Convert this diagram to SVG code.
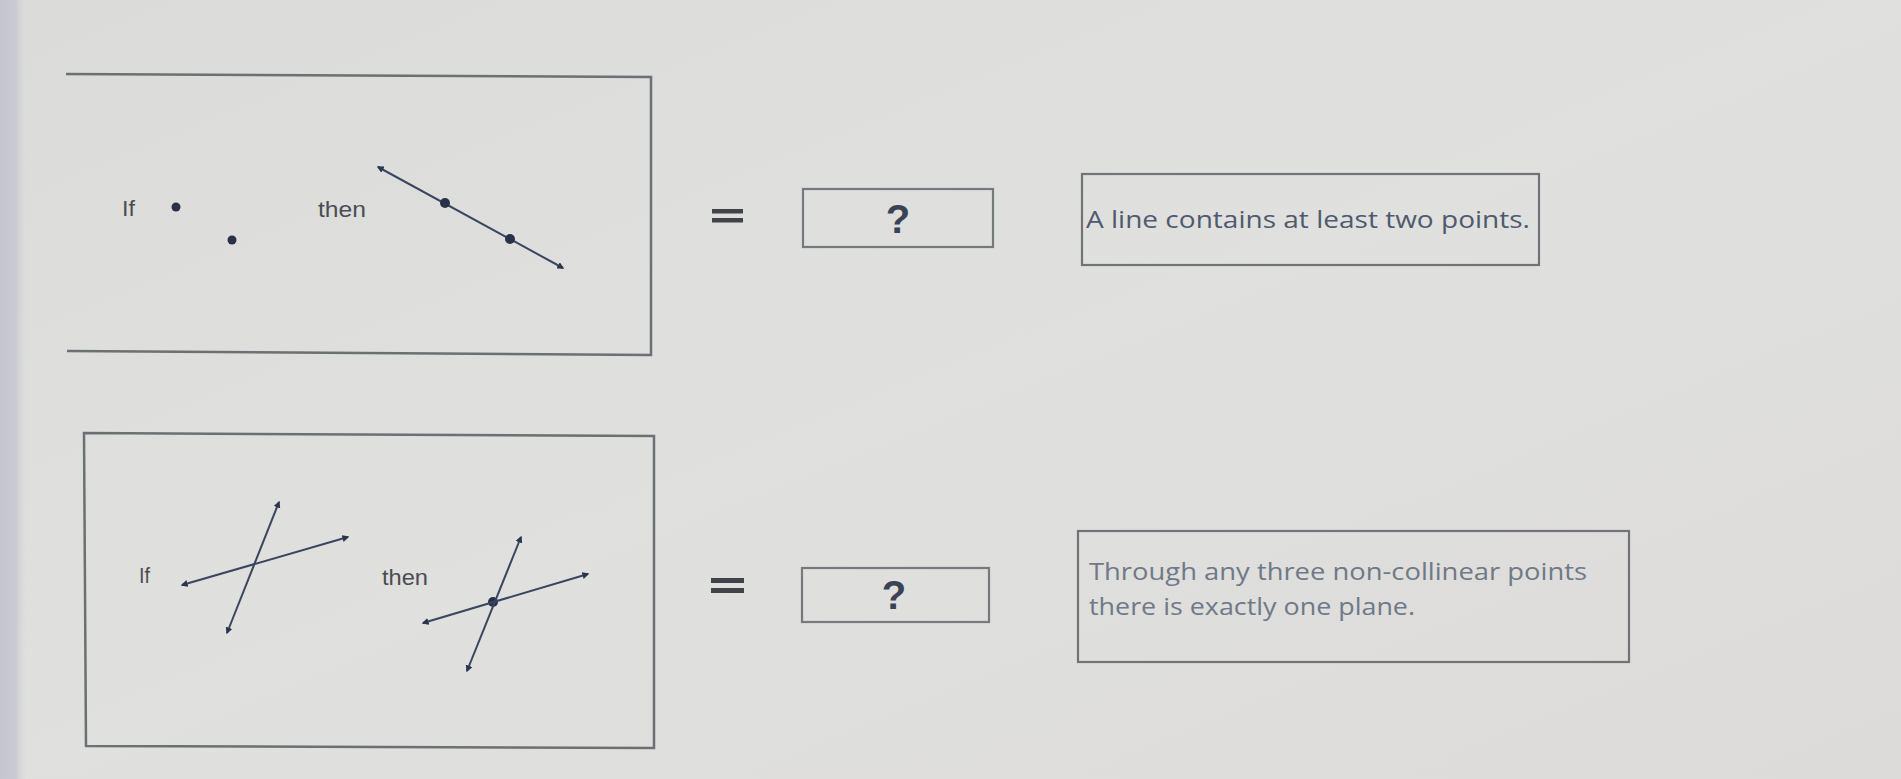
<svg xmlns="http://www.w3.org/2000/svg" width="1901" height="779" viewBox="0 0 1901 779">
<defs>
<linearGradient id="bg" x1="0" y1="0" x2="1" y2="1">
<stop offset="0" stop-color="#dbdbda"/>
<stop offset="0.5" stop-color="#e0e0de"/>
<stop offset="1" stop-color="#dcdbd9"/>
</linearGradient>
<linearGradient id="band" x1="0" y1="0" x2="1" y2="0">
<stop offset="0" stop-color="#c4c5cf"/>
<stop offset="0.6" stop-color="#c9cad2"/>
<stop offset="1" stop-color="#d6d6d8" stop-opacity="0"/>
</linearGradient>
<marker id="ah" viewBox="0 0 10 10" refX="8" refY="5" markerWidth="3.5" markerHeight="3.5" orient="auto-start-reverse" markerUnits="strokeWidth">
<path d="M0,0 L10,5 L0,10 z" fill="#2c3550"/>
</marker>
<style>
.frame{fill:none;stroke:#6c6f73;stroke-width:2.5}
.qbox{fill:none;stroke:#76797d;stroke-width:2.2}
.tbox{fill:none;stroke:#707378;stroke-width:2.2}
.geo{stroke:#3a4560;stroke-width:2;fill:none}
.dot{fill:#28304a}
.lbl{font-family:"Liberation Sans",Arial,sans-serif;font-size:22px;fill:#4a4d52}
.q{font-family:"Liberation Sans",Arial,sans-serif;font-size:40px;font-weight:bold;fill:#3a4256}
.eq{fill:#404448}
.t1{font-family:"Open Sans","Liberation Sans",sans-serif;font-size:24px;fill:#4f5a6e}
.t2{font-family:"Open Sans","Liberation Sans",sans-serif;font-size:24px;fill:#6f7987}
</style>
</defs>
<rect x="0" y="0" width="1901" height="779" fill="url(#bg)"/>
<rect x="0" y="0" width="26" height="779" fill="url(#band)"/>

<g id="postulate1">
<path class="frame" d="M66,74 L651,77 L651,355 L67,351"/>
<text class="lbl" x="122" y="216" textLength="13" lengthAdjust="spacingAndGlyphs">If</text>
<circle class="dot" cx="176" cy="207" r="4.5"/>
<circle class="dot" cx="232" cy="240" r="4.5"/>
<text class="lbl" x="318" y="217" textLength="48" lengthAdjust="spacingAndGlyphs">then</text>
</g>

<g id="postulate2">
<path class="frame" d="M84,433 L654,436 L654,748 L86,746 Z"/>
<text class="lbl" x="139" y="583" textLength="11" lengthAdjust="spacingAndGlyphs">If</text>
<text class="lbl" x="382" y="585" textLength="46" lengthAdjust="spacingAndGlyphs">then</text>
<circle class="dot" cx="493" cy="602" r="5"/>
</g>

<g id="eq1">
<rect class="eq" x="712" y="209" width="31" height="4.5"/>
<rect class="eq" x="712" y="218" width="31" height="4.5"/>
</g>
<g id="eq2">
<rect class="eq" x="711" y="578" width="33" height="5"/>
<rect class="eq" x="711" y="588" width="33" height="5"/>
</g>

<g id="answer1">
<rect class="qbox" x="803" y="189" width="190" height="58"/>
<text class="q" x="898" y="233" text-anchor="middle">?</text>
</g>
<g id="answer2">
<rect class="qbox" x="802" y="568" width="187" height="54"/>
<text class="q" x="894" y="609" text-anchor="middle">?</text>
</g>

<g id="choice1">
<rect class="tbox" x="1082" y="174" width="457" height="91"/>
<text class="t1" x="1086" y="228" textLength="444" lengthAdjust="spacingAndGlyphs">A line contains at least two points.</text>
</g>
<g id="choice2">
<rect class="tbox" x="1078" y="531" width="551" height="131"/>
<text class="t2" x="1089" y="580" textLength="498" lengthAdjust="spacingAndGlyphs">Through any three non-collinear points</text>
<text class="t2" x="1089" y="615" textLength="326" lengthAdjust="spacingAndGlyphs">there is exactly one plane.</text>
</g>

<g id="connectors">
<line class="geo" x1="378" y1="167" x2="563" y2="268" marker-start="url(#ah)" marker-end="url(#ah)"/>
<circle class="dot" cx="445" cy="203" r="5"/>
<circle class="dot" cx="510" cy="239" r="5"/>
<line class="geo" x1="279" y1="502" x2="227" y2="633" marker-start="url(#ah)" marker-end="url(#ah)"/>
<line class="geo" x1="182" y1="585" x2="348" y2="537" marker-start="url(#ah)" marker-end="url(#ah)"/>
<line class="geo" x1="521" y1="537" x2="467" y2="671" marker-start="url(#ah)" marker-end="url(#ah)"/>
<line class="geo" x1="423" y1="623" x2="588" y2="574" marker-start="url(#ah)" marker-end="url(#ah)"/>
</g>
</svg>
